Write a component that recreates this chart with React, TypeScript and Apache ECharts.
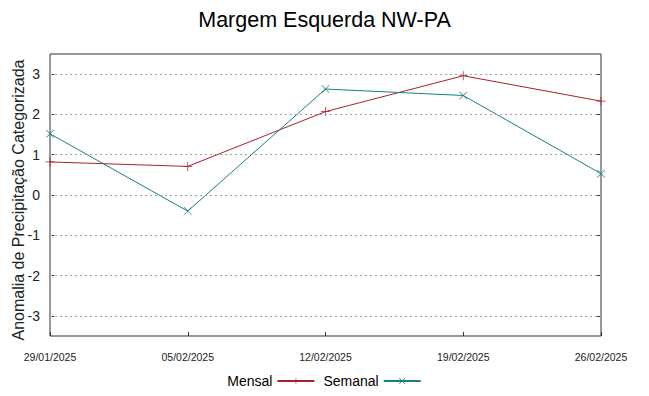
import React, { useEffect, useRef } from "react";
import * as echarts from "echarts";

const categories = ["29/01/2025", "05/02/2025", "12/02/2025", "19/02/2025", "26/02/2025"];
const mensal = [0.82, 0.71, 2.07, 2.96, 2.33];
const semanal = [1.52, -0.4, 2.63, 2.47, 0.53];
const yTicks = [-3, -2, -1, 0, 1, 2, 3];
const yAxisTitle = "Anomalia de Precipitação Categorizada";

const plusPath = "path://M0,4.6H10V5.4H0Z M4.6,0H5.4V10H4.6Z";
const crossPath = "path://M0.6,0L10,9.4L9.4,10L0,0.6Z M9.4,0L10,0.6L0.6,10L0,9.4Z";

export default function App() {
  const ref = useRef<HTMLDivElement>(null);
  useEffect(() => {
    if (!ref.current) return;
    const chart = echarts.init(ref.current, null, { renderer: "svg" });
    const fmt = (v: number) => (Number.isInteger(v) && yTicks.includes(v) ? String(v) : "");
    chart.setOption({
      animation: false,
      backgroundColor: "#fff",
      title: {
        text: "Margem Esquerda NW-PA",
        left: "center",
        top: 4,
        textStyle: { fontFamily: "Liberation Sans", fontSize: 21.5, fontWeight: "normal", color: "#000" },
      },
      graphic: [
        {
          type: "text",
          x: 18,
          y: 200,
          rotation: Math.PI / 2,
          style: {
            text: yAxisTitle,
            fontFamily: "Liberation Sans",
            fontSize: 16,
            fill: "#222",
            textAlign: "center",
            textVerticalAlign: "middle",
          },
        },
      ],
      legend: {
        bottom: 3,
        left: "center",
        align: "right",
        itemWidth: 37,
        itemHeight: 8,
        itemGap: 8,
        textStyle: { fontFamily: "Liberation Sans", fontSize: 14, color: "#000" },
        data: ["Mensal", "Semanal"],
      },
      grid: { left: 50, right: 48, top: 54, bottom: 60, show: true, borderColor: "#333", borderWidth: 1, containLabel: false },
      xAxis: {
        type: "category",
        data: categories,
        boundaryGap: false,
        axisLine: { show: false, onZero: false },
        axisTick: { show: true, inside: true, length: 4, lineStyle: { color: "#333" } },
        axisLabel: { fontFamily: "Liberation Sans", fontSize: 10.5, color: "#222", margin: 15 },
        splitLine: { show: false },
      },
      yAxis: [
        {
          type: "value",
          min: -3.5,
          max: 3.5,
          interval: 0.5,
          axisLine: { show: false },
          axisTick: { show: true, inside: true, length: 4, customValues: yTicks, lineStyle: { color: "#333" } },
          splitLine: { show: false },
          axisLabel: { fontFamily: "Liberation Sans", fontSize: 14, color: "#222", margin: 10, formatter: fmt },
        },
        {
          type: "value",
          position: "right",
          min: -3.5,
          max: 3.5,
          interval: 0.5,
          axisLine: { show: false },
          axisTick: { show: true, inside: true, length: 4, customValues: yTicks, lineStyle: { color: "#333" } },
          splitLine: { show: false },
          axisLabel: { show: false },
        },
      ],
      series: [
        {
          name: "Mensal",
          type: "line",
          data: mensal,
          symbol: plusPath,
          symbolSize: 9,
          showAllSymbol: true,
          lineStyle: { color: "#a8202c", width: 1 },
          itemStyle: { color: "#a8202c" },
          markLine: {
            silent: true,
            symbol: "none",
            label: { show: false },
            lineStyle: { color: "#a0a0a0", type: [2, 3], width: 1 },
            data: yTicks.map((v) => ({ yAxis: v })),
          },
          z: 3,
        },
        {
          name: "Semanal",
          type: "line",
          data: semanal,
          symbol: crossPath,
          symbolSize: 8,
          showAllSymbol: true,
          lineStyle: { color: "#1a7f80", width: 1 },
          itemStyle: { color: "#1a7f80" },
          z: 4,
        },
      ],
    });
    return () => chart.dispose();
  }, []);
  return <div ref={ref} style={{ width: 649, height: 396, position: "absolute", left: 0, top: 0 }} />;
}
